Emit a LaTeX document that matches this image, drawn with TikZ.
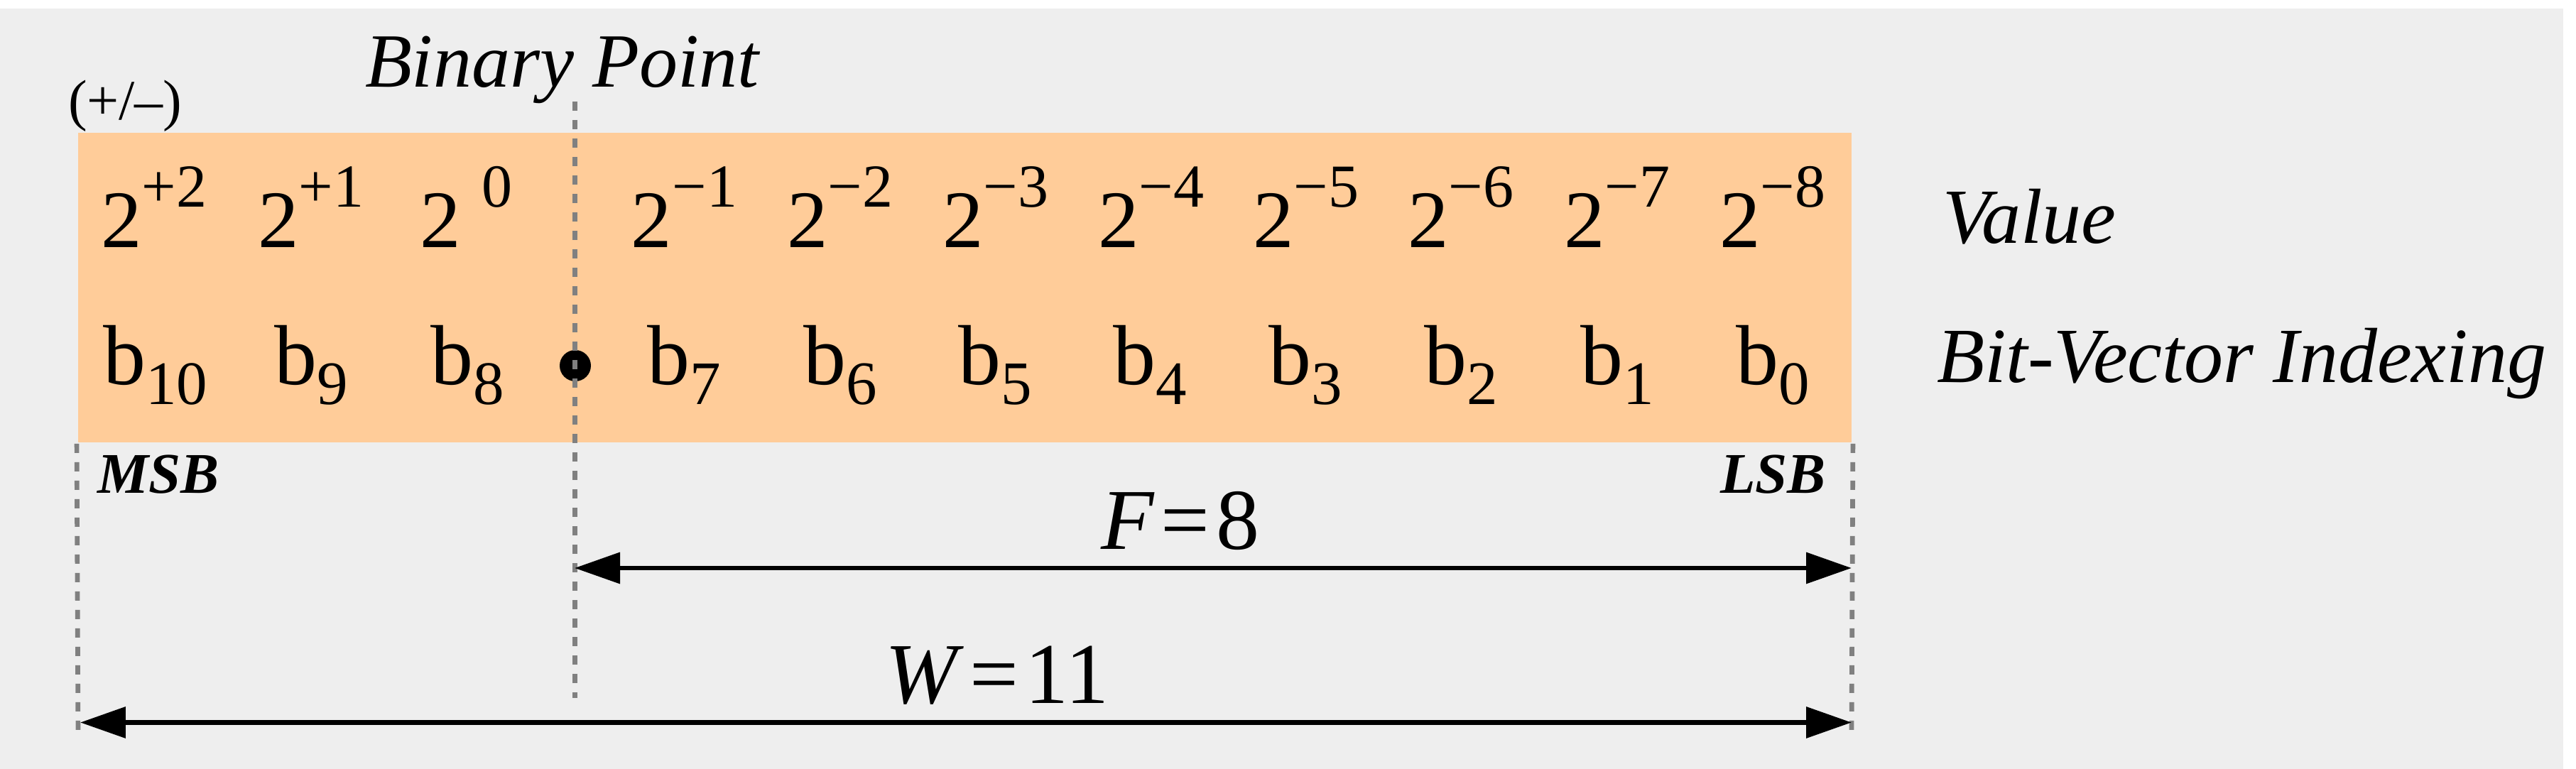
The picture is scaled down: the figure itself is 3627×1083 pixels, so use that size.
\documentclass[tikz,border=0pt]{standalone}
\usepackage{fontspec}
\setmainfont{Liberation Serif}
\usetikzlibrary{arrows.meta}
\definecolor{bggray}{HTML}{EEEEEE}
\definecolor{boxorange}{HTML}{FFCC99}
\definecolor{dashgray}{HTML}{808080}
\newcommand{\pw}[1]{2\raisebox{5.7pt}{\fontsize{8.6pt}{9pt}\selectfont #1}}
\newcommand{\bsub}[1]{b\raisebox{-2.8pt}{\fontsize{8.7pt}{9pt}\selectfont #1}}
\begin{document}
\begin{tikzpicture}[x=0.1pt,y=-0.1pt,
  lbl/.style={inner sep=0pt, outer sep=0pt, anchor=base west},
  val/.style={lbl, font=\fontsize{11.5pt}{12pt}\selectfont},
  bit/.style={lbl, font=\fontsize{12pt}{13pt}\selectfont},
  side/.style={lbl, font=\fontsize{11pt}{12pt}\selectfont\itshape},
  endlbl/.style={lbl, font=\fontsize{8.1pt}{9pt}\selectfont\bfseries\itshape},
  dimlbl/.style={lbl, font=\fontsize{12.2pt}{13pt}\selectfont},
  guide/.style={draw=dashgray, line width=0.67pt, dash pattern=on 1.3pt off 1.3pt},
  dimline/.style={line width=0.67pt, {Triangle[length=6.4pt,width=4.3pt]}-{Triangle[length=6.4pt,width=4.3pt]}},
  ]
\useasboundingbox (0,0) rectangle (3627,1083);
\fill[white] (0,0) rectangle (3627,1083);
\fill[bggray] (0,12) rectangle (3609,1083);

% register box
\node[fill=boxorange, inner sep=0pt, minimum width=249.7pt, minimum height=43.6pt] (reg) at (1358.5,405) {};

% binary point dot
\node[circle, fill=black, inner sep=0pt, minimum size=4.4pt] (bp) at (810,515) {};

% guide lines
\coordinate (msbtop) at (reg.south west);
\coordinate (msbbot) at (110,1039);
\coordinate (bptop) at (809.5,143);
\coordinate (bpbot) at (809.5,983);
\coordinate (lsbtop) at (reg.south east);
\coordinate (lsbbot) at (2607,1039);
\draw[guide] (msbtop) -- (msbbot);
\draw[guide] (bptop) -- (bpbot);
\draw[guide] (lsbtop) -- (lsbbot);

% value row
\node[val] (v10) at (142,349) {\pw{+2}};
\node[val] (v9)  at (363,349) {\pw{+1}};
\node[val] (v8)  at (591,349) {2\hspace{3pt}\raisebox{5.7pt}{\fontsize{8.6pt}{9pt}\selectfont 0}};
\node[val] (v7)  at (889,349) {\pw{−1}};
\node[val] (v6)  at (1108,349) {\pw{−2}};
\node[val] (v5)  at (1327,349) {\pw{−3}};
\node[val] (v4)  at (1546,349) {\pw{−4}};
\node[val] (v3)  at (1764,349) {\pw{−5}};
\node[val] (v2)  at (1982,349) {\pw{−6}};
\node[val] (v1)  at (2202,349) {\pw{−7}};
\node[val] (v0)  at (2421,349) {\pw{−8}};

% bit row
\node[bit] (b10) at (145,542) {\bsub{10}};
\node[bit] (b9)  at (386,542) {\bsub{9}};
\node[bit] (b8)  at (606,542) {\bsub{8}};
\node[bit] (b7)  at (911,542) {\bsub{7}};
\node[bit] (b6)  at (1131,542) {\bsub{6}};
\node[bit] (b5)  at (1349,542) {\bsub{5}};
\node[bit] (b4)  at (1567,542) {\bsub{4}};
\node[bit] (b3)  at (1786,542) {\bsub{3}};
\node[bit] (b2)  at (2005,542) {\bsub{2}};
\node[bit] (b1)  at (2225,542) {\bsub{1}};
\node[bit] (b0)  at (2444,542) {\bsub{0}};

% labels
\node[lbl, font=\fontsize{10.8pt}{12pt}\selectfont\itshape] (bplbl) at (514,123) {Binary Point};
\node[lbl, font=\fontsize{8pt}{9pt}\selectfont] (sign) at (96,169) {(+/–)};
\node[side] (vallbl) at (2735,343) {Value};
\node[side] (bitlbl) at (2727,539) {Bit-Vector Indexing};
\node[endlbl] (msb) at (137,695) {MSB};
\node[endlbl] (lsb) at (2422,695) {LSB};

% dimensions
\coordinate (fl) at (809,800);
\coordinate (fr) at (2607,800);
\coordinate (wl) at (113,1017.5);
\coordinate (wr) at (2607,1017.5);
\draw[dimline] (fl) -- (fr);
\draw[dimline] (wl) -- (wr);
\node[dimlbl] (flbl) at (1550,774) {\textit{F}\hspace{0.9pt}=\hspace{0.9pt}8};
\node[dimlbl] (wlbl) at (1246,991) {\textit{W}\hspace{0.9pt}=\hspace{0.9pt}11};
\end{tikzpicture}
\end{document}
